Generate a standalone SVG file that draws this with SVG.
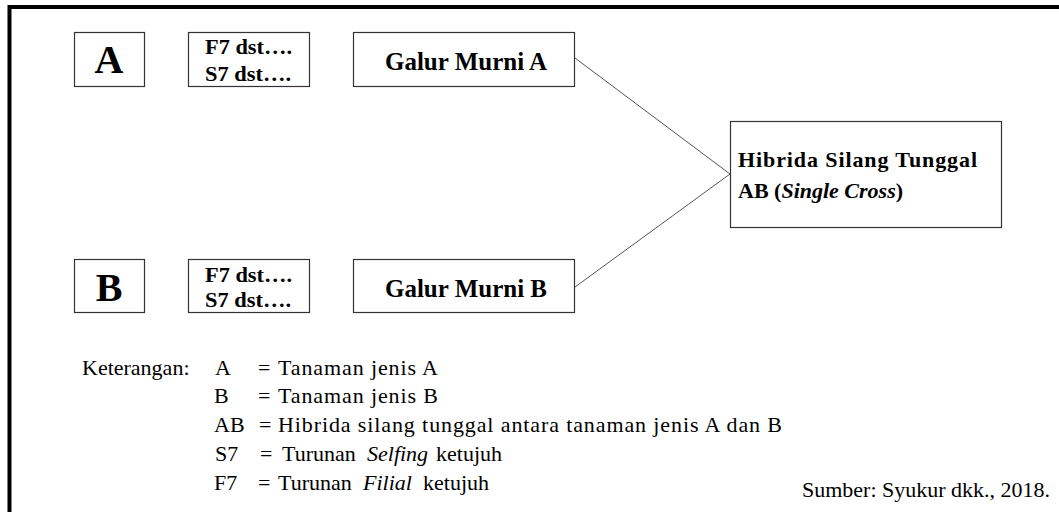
<svg xmlns="http://www.w3.org/2000/svg" width="1059" height="512" viewBox="0 0 1059 512">
<style>
.box{fill:#fff;stroke:#333;stroke-width:1.2}
.b{font-family:"Liberation Serif",serif;font-weight:bold;fill:#000}
.r{font-family:"Liberation Serif",serif;font-size:22px;fill:#000}
.i{font-style:italic}
.conn{stroke:#555;stroke-width:1;fill:none}
</style>
<rect width="1059" height="512" fill="#fff"/>
<path d="M9.5,512 V7 H1059" fill="none" stroke="#000" stroke-width="4"/>
<g id="nodeA">
<rect class="box" x="74.5" y="32.5" width="70" height="54"/>
<text class="b" x="109" y="73" font-size="40" text-anchor="middle">A</text>
</g>
<g id="genA">
<rect class="box" x="188.5" y="32.5" width="121" height="54"/>
<text class="b" x="205" y="54" font-size="21" textLength="87" lengthAdjust="spacingAndGlyphs">F7 dst….</text>
<text class="b" x="205" y="81" font-size="21" textLength="86" lengthAdjust="spacingAndGlyphs">S7 dst….</text>
</g>
<g id="galurA">
<rect class="box" x="353.5" y="32.5" width="221" height="54"/>
<text class="b" x="466" y="70" font-size="25" text-anchor="middle">Galur Murni A</text>
</g>
<g id="nodeB">
<rect class="box" x="74.5" y="259.5" width="70" height="53"/>
<text class="b" x="109" y="301" font-size="40" text-anchor="middle">B</text>
</g>
<g id="genB">
<rect class="box" x="188.5" y="259.5" width="121" height="53"/>
<text class="b" x="205" y="282" font-size="21" textLength="87" lengthAdjust="spacingAndGlyphs">F7 dst….</text>
<text class="b" x="205" y="307" font-size="21" textLength="86" lengthAdjust="spacingAndGlyphs">S7 dst….</text>
</g>
<g id="galurB">
<rect class="box" x="353.5" y="259.5" width="221" height="53"/>
<text class="b" x="466" y="297" font-size="25" text-anchor="middle">Galur Murni B</text>
</g>
<g id="hibrida">
<rect class="box" x="730.5" y="121.5" width="271" height="106"/>
<text class="b" x="738" y="167" font-size="22" textLength="239" lengthAdjust="spacing">Hibrida Silang Tunggal</text>
<text class="b" x="738" y="198" font-size="22">AB (<tspan class="i">Single Cross</tspan>)</text>
</g>
<g id="connectors">
<line class="conn" x1="575" y1="58" x2="730" y2="174"/>
<line class="conn" x1="575" y1="287" x2="730" y2="174"/>
</g>
<g id="legend">
<text class="r" x="82" y="375">Keterangan:</text>
<text class="r" x="215" y="375">A</text>
<text class="r" x="258" y="375">=</text>
<text class="r" x="278" y="375" textLength="160" lengthAdjust="spacing">Tanaman  jenis A</text>
<text class="r" x="214" y="403">B</text>
<text class="r" x="258" y="403">=</text>
<text class="r" x="278" y="403" textLength="160" lengthAdjust="spacing">Tanaman  jenis B</text>
<text class="r" x="214" y="432">AB</text>
<text class="r" x="259" y="432">=</text>
<text class="r" x="278" y="432" textLength="504" lengthAdjust="spacing">Hibrida  silang  tunggal  antara  tanaman  jenis A dan B</text>
<text class="r" x="215" y="461">S7</text>
<text class="r" x="260" y="461">=</text>
<text class="r" x="282" y="461">Turunan</text>
<text class="r i" x="367" y="461">Selfing</text>
<text class="r" x="436" y="461">ketujuh</text>
<text class="r" x="214" y="490">F7</text>
<text class="r" x="258" y="490">=</text>
<text class="r" x="278" y="490">Turunan</text>
<text class="r i" x="363" y="490">Filial</text>
<text class="r" x="423" y="490">ketujuh</text>
<text class="r" x="802" y="497">Sumber: Syukur dkk., 2018.</text>
</g>
</svg>
